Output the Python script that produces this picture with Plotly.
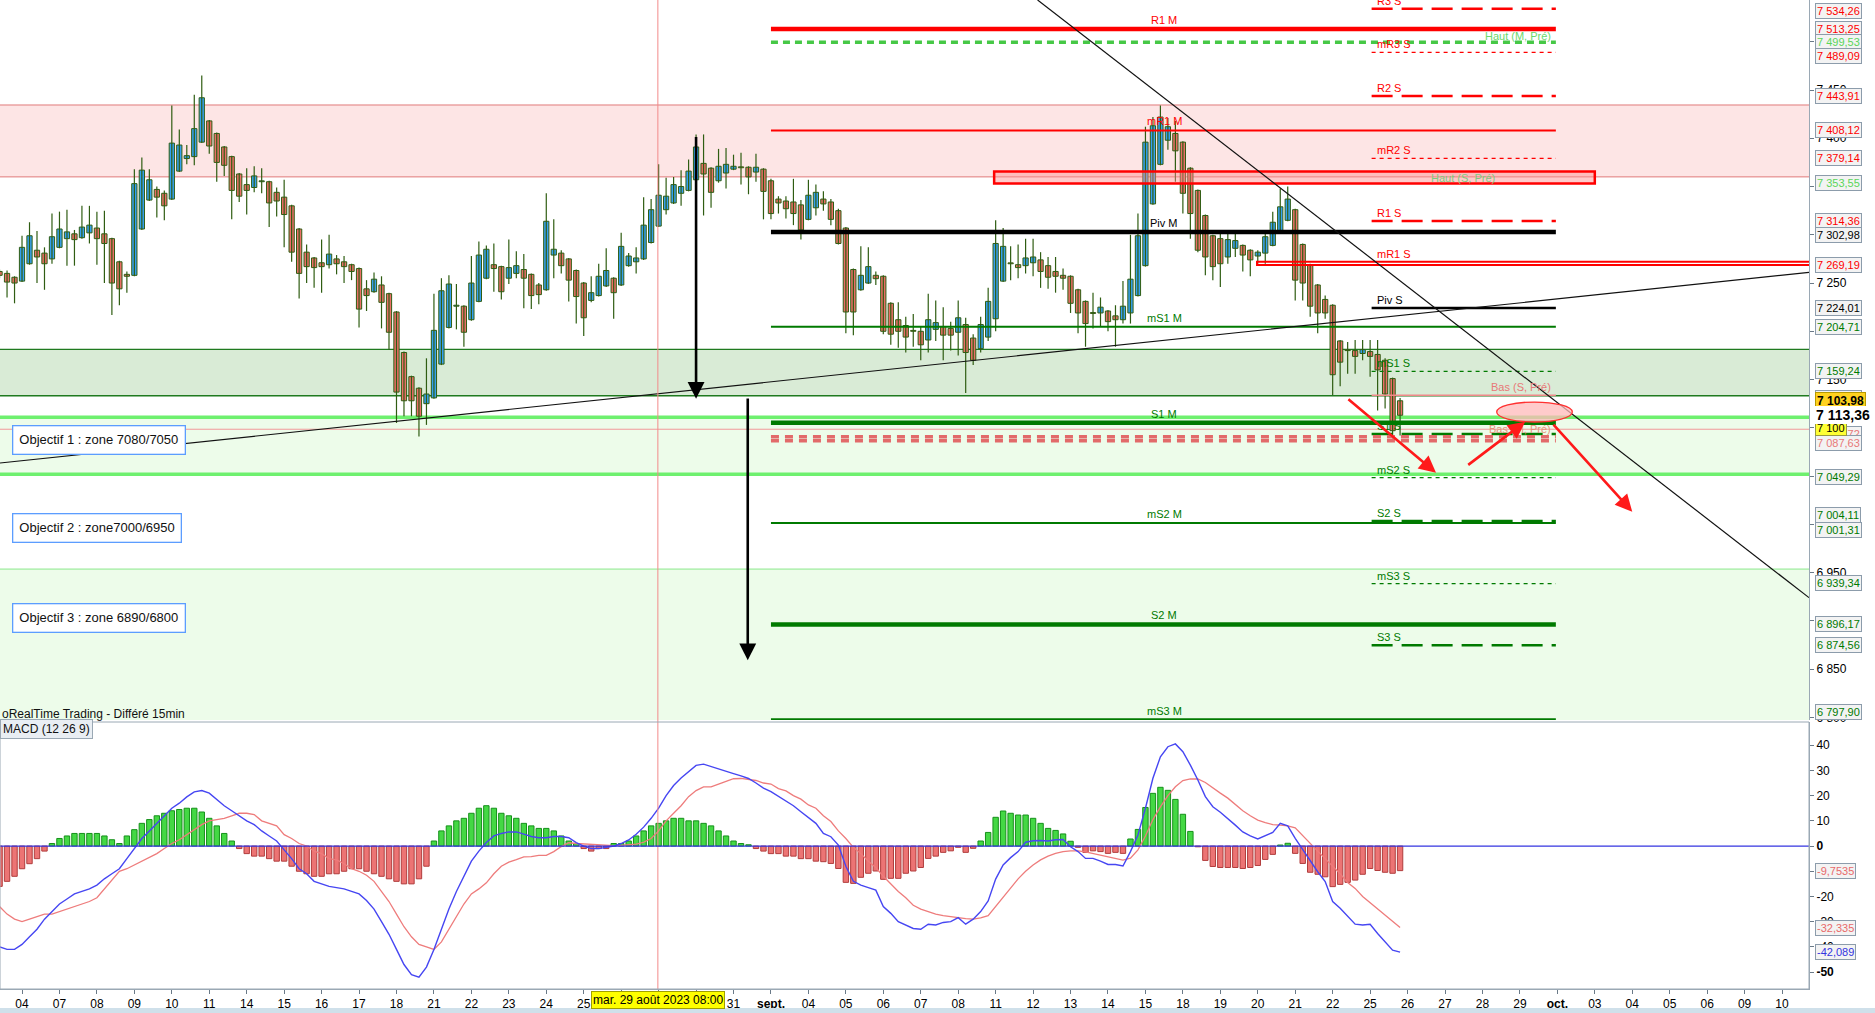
import plotly.graph_objects as go

# Bougies 2h CAC 40, du 3 août au 25 sept. 2023
OPEN = [7262, 7260, 7256, 7252, 7270, 7284, 7281, 7275, 7287, 7296,
        7301, 7297, 7302, 7307, 7301, 7296, 7272, 7259, 7258, 7306,
        7336, 7347, 7343, 7337, 7366, 7379, 7381, 7396, 7418, 7405,
        7391, 7381, 7363, 7352, 7349, 7355, 7355, 7344, 7339, 7330,
        7306, 7282, 7276, 7271, 7269, 7275, 7272, 7269, 7265, 7244,
        7241, 7248, 7239, 7220, 7178, 7153, 7141, 7125, 7131, 7166,
        7204, 7226, 7226, 7212, 7231, 7255, 7269, 7267, 7255, 7260,
        7264, 7259, 7248, 7243, 7279, 7281, 7275, 7263, 7250, 7232,
        7237, 7247, 7255, 7248, 7268, 7272, 7275, 7292, 7309, 7326,
        7333, 7343, 7346, 7357, 7374, 7369, 7356, 7364, 7368, 7369.5,
        7370, 7365, 7368, 7356, 7337, 7335, 7334, 7331, 7316, 7328,
        7337, 7334, 7325, 7307, 7264, 7243, 7250, 7258, 7257, 7229,
        7212, 7206, 7200.5, 7200, 7191, 7202, 7205, 7203, 7199, 7207,
        7193, 7182, 7194, 7213, 7252, 7270.5, 7269, 7268, 7271, 7274,
        7268, 7262, 7258, 7257, 7243, 7231, 7219, 7219, 7221, 7216,
        7212, 7219, 7237, 7268, 7332, 7373, 7398, 7405, 7396, 7369,
        7346, 7320, 7299, 7296, 7277, 7286, 7289, 7284, 7278, 7281,
        7289, 7303, 7315, 7326, 7290, 7269, 7248, 7233, 7227, 7190,
        7180.5, 7180, 7177, 7179, 7176, 7170, 7151, 7128]
HIGH = [7264, 7263, 7257, 7299, 7313, 7304, 7287, 7322, 7324, 7326,
        7305, 7330, 7330, 7324, 7325, 7297, 7273, 7262, 7368, 7380,
        7368, 7350, 7346, 7434, 7409, 7393, 7445, 7465, 7419, 7406,
        7392, 7382, 7364, 7369, 7371, 7369, 7356, 7349, 7357, 7331,
        7307, 7290, 7277, 7295, 7300, 7279, 7278, 7270, 7266, 7253,
        7261, 7257, 7240, 7221, 7179, 7154, 7142, 7172, 7239, 7255,
        7258, 7249, 7227, 7278, 7293, 7289, 7291, 7268, 7295, 7283,
        7280, 7260, 7250, 7343, 7316, 7284, 7276, 7264, 7251, 7257,
        7270, 7286, 7256, 7302, 7281, 7287, 7339, 7337, 7373, 7359,
        7360, 7367, 7378, 7404, 7404, 7370, 7389, 7390, 7383, 7385,
        7371, 7384, 7369, 7358, 7340, 7340, 7358, 7336, 7357, 7352,
        7345, 7337, 7327, 7308, 7265, 7288, 7287, 7262, 7258, 7230,
        7230, 7215, 7218, 7205, 7239, 7232, 7225, 7210, 7232, 7214,
        7197, 7215, 7245, 7315, 7307, 7288, 7290, 7296, 7296, 7282,
        7277, 7277, 7265, 7258, 7244, 7232, 7240, 7235, 7222, 7227,
        7252, 7300, 7322, 7412, 7422, 7434, 7421, 7418, 7397, 7370,
        7347, 7321, 7300, 7305, 7305, 7305, 7290, 7285, 7284, 7305,
        7324, 7348, 7350, 7327, 7291, 7270, 7249, 7237, 7228, 7191,
        7189, 7191, 7191, 7191, 7191, 7172, 7152, 7131]
LOW = [7255, 7235, 7229, 7251, 7269, 7250, 7243, 7270, 7286, 7268,
       7268, 7296, 7291, 7269, 7250, 7217, 7227, 7240, 7257, 7305,
       7335, 7318, 7315, 7336, 7365, 7373, 7372, 7395, 7384, 7355,
       7361, 7316, 7334, 7321, 7344, 7343, 7308, 7319, 7287, 7272,
       7234, 7250, 7245, 7240, 7265, 7259, 7250, 7253, 7204, 7221,
       7240, 7203, 7181, 7105, 7112, 7112, 7091, 7103, 7130, 7165,
       7203, 7202, 7184, 7211, 7230, 7254, 7241, 7233, 7249, 7255,
       7224, 7223, 7228, 7242, 7255, 7260, 7231, 7208, 7195, 7230,
       7236, 7246, 7213, 7247, 7267, 7260, 7274, 7291, 7308, 7321,
       7332, 7330, 7345, 7356, 7320, 7328, 7354, 7348, 7367, 7352,
       7342, 7355, 7316, 7316, 7322, 7317, 7310, 7295, 7315, 7320,
       7325, 7310, 7290, 7198, 7196, 7242, 7249, 7248, 7197, 7186,
       7183, 7178, 7184, 7170, 7178, 7190, 7170, 7180, 7175, 7136,
       7165, 7178, 7190, 7200, 7251, 7253, 7255, 7260, 7257, 7245,
       7244, 7240, 7243, 7219, 7198, 7184, 7203, 7205, 7200, 7184,
       7208, 7208, 7236, 7267, 7331, 7372, 7388, 7355, 7322, 7296,
       7282, 7258, 7253, 7246, 7270, 7277, 7262, 7257, 7270, 7270,
       7288, 7302, 7314, 7232, 7232, 7215, 7198, 7213, 7134, 7143,
       7156, 7156, 7170, 7153, 7118, 7120, 7089, 7092]
CLOSE = [7258, 7251, 7250, 7287, 7299, 7277, 7270, 7298, 7306, 7303,
         7295, 7308, 7310, 7296, 7291, 7250, 7244, 7257, 7353, 7367,
         7357, 7339, 7330, 7395, 7393, 7382, 7410, 7442, 7392, 7375,
         7372, 7346, 7340, 7346, 7361, 7355.5, 7333, 7335, 7321, 7282,
         7260, 7267, 7266, 7267, 7280, 7270, 7267, 7262, 7223, 7237,
         7254, 7230, 7199, 7137, 7128, 7128, 7112, 7135, 7201, 7242,
         7249, 7227, 7199, 7250, 7279, 7285, 7265, 7241, 7266, 7268,
         7255, 7237, 7238, 7314, 7285, 7268, 7253, 7236, 7214, 7240,
         7257, 7263, 7240, 7288, 7278, 7276, 7310, 7326, 7341, 7340,
         7352, 7350, 7366, 7391, 7363, 7344, 7371, 7373, 7371, 7369.5,
         7360, 7370, 7345, 7322, 7333, 7327, 7322, 7305, 7341, 7344,
         7332, 7316, 7291, 7220, 7220, 7258, 7267, 7254.5, 7200, 7197,
         7200, 7194, 7200, 7186, 7212, 7209, 7196, 7196, 7214, 7178,
         7170, 7207, 7231, 7291, 7288, 7270, 7266, 7276, 7277, 7262,
         7256, 7257, 7255, 7229, 7219, 7208, 7218.5, 7225, 7210, 7212,
         7226, 7254, 7299, 7396, 7413, 7422, 7412, 7387, 7343, 7322,
         7284, 7277, 7267, 7270, 7295, 7294, 7279, 7274, 7282, 7298,
         7313, 7329, 7337, 7253, 7250, 7226, 7219, 7219, 7155, 7168,
         7180, 7174, 7181, 7174, 7160, 7135, 7097, 7113]

# MACD (12 26 9)
MACD = [-40, -41, -41, -39, -36, -33, -29, -26, -23, -21,
        -19, -18, -17, -15.5, -13, -11, -9, -5, -1, 3,
        6, 9, 12, 15, 17, 19.5, 21.5, 22, 21, 18.5,
        16, 14, 12, 10, 8.5, 6, 4, 2, -1.5, -5,
        -9, -11, -14, -15, -16, -16.5, -17, -18, -19, -21.6,
        -25, -30, -35, -41, -47, -51, -52, -48, -41, -33,
        -25, -18, -12, -6, -2, 1.4, 4, 5, 5.6, 5.6,
        4.7, 3.8, 3.3, 3.3, 3.8, 3.8, 3.3, 1.4, 0, -1,
        -1, -0.5, 0, 1, 2.4, 4.7, 7.5, 11, 15, 20,
        24, 27, 29.6, 32, 32.5, 31.5, 30.6, 29.6, 28.7, 27.8,
        26.8, 25, 23, 21.6, 19.8, 17.9, 16, 13.6, 11.3, 9,
        5, 3.7, 0.4, -8, -14, -15.5, -16.5, -17.5, -24, -26.7,
        -30, -31.3, -32.7, -33, -31, -31.3, -30.3, -30, -28.4, -31,
        -29, -26, -21.8, -13.1, -7.5, -4.6, -2.2, 1.5, 2.1, 2.2,
        2, 2.5, 2.6, -0.3, -2.2, -4.9, -4.9, -6, -7.3, -7.3,
        -7.9, -2.2, 4.4, 15, 26.9, 35.4, 39.4, 40.5, 37.4, 32.1,
        26.2, 19.6, 15.6, 13.4, 11, 8.3, 5.6, 4, 2.8, 4,
        5.4, 9, 8, 3, -1.5, -5.6, -10.2, -14.1, -22, -24.7,
        -28, -31, -31.3, -31, -34.7, -38, -41.3, -42.089]
SIGNAL = [-24, -27, -29, -30, -29, -28, -27, -27, -26, -25,
          -24, -23, -22, -20.5, -17, -13.5, -10, -9, -7.5, -6,
          -4.5, -3, -1, 1, 2.5, 4.5, 6.5, 8.5, 10, 10.5,
          11, 12, 13, 13, 12.5, 10, 9, 8, 4.5, 3,
          1, 0, -2, -3, -5, -5.5, -7, -9, -10, -11.6,
          -14, -18, -22, -27, -32, -36, -39, -40, -41, -38,
          -33, -28, -23, -19, -17, -14.6, -11, -8, -6.4, -5.4,
          -4.3, -4.2, -3.7, -3.7, -2.2, -0.2, 1.3, 1, 0.8, 0.6,
          0.4, 0.3, 0.2, 0.3, 0.5, 0.8, 1.5, 3, 6, 10,
          13, 16, 19.6, 22, 23.5, 23.5, 24.6, 25.6, 26.7, 26.8,
          26.3, 26, 25, 24.6, 22.8, 21.9, 20, 18.6, 16.3, 15,
          12, 9.7, 6, 3, -0.5, -3, -6, -8.5, -12, -15,
          -18, -20.5, -23.5, -25, -26, -27, -27.6, -28.1, -28.5, -28.8,
          -29, -28.5, -27.6, -24, -20, -16.8, -13, -10, -7.5, -5.5,
          -4, -2.9, -2.2, -1.9, -1.9, -2.3, -3, -3.7, -4.4, -5,
          -5.6, -4.8, -1.5, 4, 10.5, 15.5, 20, 23.5, 26, 26.6,
          26.6, 25.2, 23, 21, 19, 16.5, 14, 12, 10.3, 9.3,
          8.5, 8.3, 8, 7.2, 4, 1, -2, -5, -8, -11,
          -14.5, -16.8, -20, -22.5, -25, -27.5, -30, -32.335]
HIST = [-16, -14, -12, -9, -7, -5, -2, 1, 3, 4,
        5, 5, 5, 5, 4, 2.5, 1, 4, 6.5, 9,
        10.5, 12, 13, 14, 14.5, 15, 15, 13.5, 11, 8,
        5, 2, -1, -3, -4, -4, -5, -6, -6, -8,
        -10, -11, -12, -12, -11, -11, -10, -9, -9, -10,
        -11, -12, -13, -14, -15, -15, -13, -8, 2, 6,
        8, 10, 11, 13, 15, 16, 15, 13, 12, 11,
        9, 8, 7, 7, 6, 4, 2, 1, -1, -2,
        -1, -1, 1, 1, 2, 4, 6, 8, 9, 10,
        11, 11, 10, 10, 9, 8, 6, 4, 2, 1,
        0.5, -1, -2, -3, -3, -4, -4, -5, -5, -6,
        -6.2, -6.9, -8.9, -14.4, -14.8, -12.4, -10.8, -9.9, -13.2, -12.8,
        -12.8, -10.8, -9.9, -8.5, -4.9, -4, -2.5, -1.9, -0.5, -2.5,
        -0.9, 2, 5.4, 11.4, 13.9, 13, 12.3, 12.3, 11, 9,
        7, 6.2, 4.8, 1.9, -0.5, -2.5, -1.9, -2.2, -2.9, -2.5,
        -2.9, 2.8, 6.6, 15.3, 20.9, 23.3, 22.1, 18.5, 12.6, 5.8,
        -0.3, -5.7, -8.1, -8.5, -8.5, -8.5, -8.9, -8.5, -7.7, -5.3,
        -3.3, 0.4, 1.1, -2.9, -6.9, -10.4, -11.2, -12.2, -16.1, -15.2,
        -14.4, -13.5, -11.2, -8.9, -9.7, -10.4, -10.8, -9.7535]

DAY_LABELS = ["04", "07", "08", "09", "10", "11", "14", "15", "16", "17",
              "18", "21", "22", "23", "24", "25", "28", "29", "30", "31",
              "sept.", "04", "05", "06", "07", "08", "11", "12", "13", "14",
              "15", "18", "19", "20", "21", "22", "25", "26", "27", "28",
              "29", "oct.", "03", "04", "05", "06", "09", "10"]
PRICE_TICKS = [6800, 6850, 6900, 6950, 7000, 7050, 7100, 7150, 7200, 7250,
               7300, 7350, 7400, 7450, 7500]
MACD_TICKS = [-50, -40, -30, -20, -10, 0, 10, 20, 30, 40]

# pivots mensuels / hebdomadaires
PIVOT_M_NAMES = ["R1 M", "mR1 M", "Piv M", "mS1 M", "S1 M", "mS2 M", "S2 M", "mS3 M"]
PIVOT_M_VALUES = [7513.25, 7408.12, 7302.98, 7204.71, 7105.2, 7001.31, 6896.17, 6797.90]
PIVOT_S_NAMES = ["R3 S", "mR3 S", "R2 S", "mR2 S", "R1 S", "mR1 S", "Piv S",
                 "mS1 S", "S1 S", "mS2 S", "S2 S", "mS3 S", "S3 S"]
PIVOT_S_VALUES = [7534.26, 7489.09, 7443.91, 7379.14, 7314.36, 7269.19, 7224.01,
                  7158.5, 7093.5, 7048.3, 7003.5, 6938.5, 6874.56]
PREV_NAMES = ["Haut (M, Pré)", "Haut (S, Pré)", "Bas (S, Pré)", "Bas (M, Pré)"]
PREV_VALUES = [7499.53, 7353.55, 7133.65, 7087.63]

ZONES = {"resist": (7360, 7434.5), "support": (7133.2, 7181.3),
         "obj1": (7051.8, 7110.8), "obj3": (6797.2, 6953.6)}
ROUND_LEVEL = 7100
OBJECTIVES = [("Objectif 1 : zone 7080/7050", 7087),
              ("Objectif 2 : zone7000/6950", 6996),
              ("Objectif 3 : zone 6890/6800", 6903)]

TREND_DOWN = [(138.6, 7543.3), (241.6, 6924.0)]
TREND_UP = [(0.06, 7063.5), (241.6, 7261.0)]
BLACK_ARROWS = [((93.0, 7403), (93.0, 7130)), ((99.9, 7132), (99.9, 6859))]
RED_ARROWS = [((179.9, 7130.8), (191.8, 7053.4)),
              ((195.9, 7060.4), (203.7, 7106.3)),
              ((207.3, 7104.9), (218.0, 7013.0))]
TARGET_ELLIPSE = (199.9, 210.0, 7106.0, 7126.7)
CROSSHAIR_BAR = 87.9
CROSSHAIR_TEXT = "mar. 29 août 2023 08:00"

AXIS_TAGS = [("7 534,26", 7534.26), ("7 513,25", 7513.25), ("7 499,53", 7499.53),
             ("7 489,09", 7489.09), ("7 443,91", 7443.91), ("7 408,12", 7408.12),
             ("7 379,14", 7379.14), ("7 353,55", 7353.55), ("7 314,36", 7314.36),
             ("7 302,98", 7302.98), ("7 269,19", 7269.19), ("7 224,01", 7224.01),
             ("7 204,71", 7204.71), ("7 159,24", 7159.24), ("7 133,65", 7133.65),
             ("7 090,72", 7090.72), ("7 087,63", 7087.63), ("7 049,29", 7049.29),
             ("7 004,11", 7004.11), ("7 001,31", 7001.31), ("6 939,34", 6939.34),
             ("6 896,17", 6896.17), ("6 874,56", 6874.56), ("6 797,90", 6797.90)]
MACD_TAGS = [("-9,7535", -9.7535), ("-32,335", -32.335), ("-42,089", -42.089)]
LAST_PRICE = 7113.36
LAST_BOX = ("7 103,98", 7127.7)

# ---------------- mise en page ----------------
RED, GREEN, BLACK = "#ff0000", "#007a00", "#000000"
SALMON = "#e87878"
LIME = "#6ef06e"
WICK = "#2f5d12"
FONT = "Liberation Sans, Arial, sans-serif"
NARROW = "Liberation Sans Narrow, Arial Narrow, Liberation Sans, sans-serif"
LONG_DASH, SHORT_DASH = "21px,9px", "4px,4px"

W, H = 1875, 1013
PLOT_W, PLOT_H = 1809, 989
X_RANGE = [0.06, 241.6]
PRICE_RANGE = [6797.2, 7543.3]
MACD_RANGE = [-56.7, 49.2]
PRICE_DOMAIN = [1 - 720 / PLOT_H, 1]
MACD_DOMAIN = [0, 1 - 722 / PLOT_H]
M_SPAN = (103.0, 207.8)
S_SPAN = (183.2, 207.8)
TAG_X = 1815 / PLOT_W

bars = list(range(len(CLOSE)))


def fmt_price(v):
    return f"{v:,.0f}".replace(",", " ")


def level_color(name):
    if "Piv" in name:
        return BLACK
    return RED if "R" in name else GREEN


def hline(y, x0, x1, color, width, dash="solid", yref="y", xref="x", layer="above"):
    return dict(type="line", xref=xref, yref=yref, x0=x0, x1=x1, y0=y, y1=y,
                line=dict(color=color, width=width, dash=dash), layer=layer)


def label(text, x, y, color, anchor="center", yanchor="bottom", size=11, **kw):
    return dict(x=x, y=y, xref="x", yref="y", text=text, showarrow=False,
                xanchor=anchor, yanchor=yanchor,
                font=dict(family=FONT, size=size, color=color), **kw)


fig = go.Figure()

# bougies : mèches puis corps
wick_x, wick_y = [], []
for i, (lo, hi) in enumerate(zip(LOW, HIGH)):
    wick_x += [i, i, None]
    wick_y += [lo, hi, None]
fig.add_trace(go.Scatter(x=wick_x, y=wick_y, xaxis="x", yaxis="y", mode="lines",
                         line=dict(color=WICK, width=1.2), showlegend=False,
                         hoverinfo="skip"))
body_base = [min(o, c) for o, c in zip(OPEN, CLOSE)]
body_size = [max(abs(c - o), 0.9) for o, c in zip(OPEN, CLOSE)]
body_fill = ["#36a0f0" if c > o else "#ea6f68" for o, c in zip(OPEN, CLOSE)]
fig.add_trace(go.Bar(x=bars, y=body_size, base=body_base, xaxis="x", yaxis="y",
                     width=0.7, marker=dict(color=body_fill, line=dict(color=WICK, width=1)),
                     showlegend=False, hoverinfo="skip"))

hist_fill = ["#44d844" if v >= 0 else "#ec7474" for v in HIST]
hist_edge = ["#15901a" if v >= 0 else "#b03c3c" for v in HIST]
fig.add_trace(go.Bar(x=bars, y=HIST, xaxis="x2", yaxis="y2", width=0.72,
                     marker=dict(color=hist_fill, line=dict(color=hist_edge, width=1)),
                     showlegend=False, hoverinfo="skip"))
fig.add_trace(go.Scatter(x=bars, y=SIGNAL, xaxis="x2", yaxis="y2", mode="lines",
                         line=dict(color="#ee7c7c", width=1.3), showlegend=False))
fig.add_trace(go.Scatter(x=bars, y=MACD, xaxis="x2", yaxis="y2", mode="lines",
                         line=dict(color="#4646f2", width=1.4), showlegend=False))

shapes = []
annotations = []

# zones de fond
zone_style = {"resist": ("#fde5e5", "#e07a7a", 1),
              "support": ("#d9ebd6", "#1f7a1f", 1.3),
              "obj1": ("#edfcea", LIME, 3.5),
              "obj3": ("#edfcea", "#8be88b", 1)}
for key, (lo, hi) in ZONES.items():
    fill, edge, lw = zone_style[key]
    shapes.append(dict(type="rect", xref="paper", yref="y", x0=0, x1=1, y0=lo, y1=hi,
                       fillcolor=fill, line=dict(width=0), layer="below"))
    shapes.append(hline(hi, 0, 1, edge, lw, xref="paper", layer="below"))
    if key != "obj3":
        shapes.append(hline(lo, 0, 1, edge, lw, xref="paper", layer="below"))
shapes.append(hline(ROUND_LEVEL - 1.5, 0, 1, "#f29a9a", 1, xref="paper", layer="below"))

# pivots mensuels
for name, val in zip(PIVOT_M_NAMES, PIVOT_M_VALUES):
    col = level_color(name)
    width = 2 if name.startswith("m") else 4.5
    shapes.append(hline(val, M_SPAN[0], M_SPAN[1], col, width))
    annotations.append(label(name, 155.5, val, col, yshift=1 if name != "mS3 M" else 0))

# pivots hebdomadaires
for name, val in zip(PIVOT_S_NAMES, PIVOT_S_VALUES):
    col = level_color(name)
    if name == "mR1 S":
        shapes.append(dict(type="rect", xref="x", yref="y", x0=167.9, x1=250,
                           y0=val - 0.6, y1=val + 2.9, line=dict(color=RED, width=2),
                           fillcolor="rgba(0,0,0,0)", layer="above"))
        annotations.append(label(name, 183.6, val + 2.9, col, anchor="left"))
        continue
    if name == "Piv S":
        shapes.append(hline(val, S_SPAN[0], S_SPAN[1], BLACK, 2.5))
    elif name.startswith("m"):
        shapes.append(hline(val, S_SPAN[0], S_SPAN[1], col, 1.2, SHORT_DASH))
    else:
        shapes.append(hline(val, S_SPAN[0], S_SPAN[1], col, 2.5, LONG_DASH))
    annotations.append(label(name, 183.6, val, col, anchor="left"))

# plus hauts / plus bas précédents
haut_m, haut_s, bas_s, bas_m = PREV_VALUES
shapes.append(hline(haut_m, M_SPAN[0], M_SPAN[1], "#46c846", 3.5, "7px,5px"))
annotations.append(label(PREV_NAMES[0], 207.4, haut_m, "#6bd86b", anchor="right", yshift=-2))
shapes.append(dict(type="rect", xref="x", yref="y", x0=132.8, x1=213.0,
                   y0=haut_s - 0.5, y1=haut_s + 12, line=dict(color=RED, width=2.5),
                   fillcolor="rgba(255,140,140,0.45)", layer="above"))
annotations.append(label(PREV_NAMES[1], 195.4, haut_s + 5.7, "#7fcc7f", yanchor="middle"))
shapes.append(hline(bas_s, S_SPAN[0], S_SPAN[1], "#ef8a8a", 1.6))
annotations.append(label(PREV_NAMES[2], 207.4, bas_s, SALMON, anchor="right"))
for off in (3.1, -1.0):
    shapes.append(hline(bas_m + off, M_SPAN[0], M_SPAN[1], "#e26a6a", 3.5, "8px,6px"))
annotations.append(label(PREV_NAMES[3], 207.4, bas_m + 11.5, "#e8927a",
                         anchor="right", yanchor="middle"))

# lignes de tendance
for (xa, ya), (xb, yb) in (TREND_DOWN, TREND_UP):
    shapes.append(dict(type="line", xref="x", yref="y", x0=xa, y0=ya, x1=xb, y1=yb,
                       line=dict(color="#111111", width=1.2), layer="above"))

# curseur vertical
shapes.append(dict(type="line", xref="x", yref="paper", x0=CROSSHAIR_BAR, x1=CROSSHAIR_BAR,
                   y0=0, y1=1, line=dict(color="#f28a8a", width=1), layer="above"))

# ellipse cible
ex0, ex1, ey0, ey1 = TARGET_ELLIPSE
shapes.append(dict(type="circle", xref="x", yref="y", x0=ex0, x1=ex1, y0=ey0, y1=ey1,
                   fillcolor="rgba(255,185,185,0.75)", line=dict(color="#ff3030", width=1.3),
                   layer="above"))

# flèches
for (tx, ty), (hx, hy) in BLACK_ARROWS:
    annotations.append(dict(x=hx, y=hy, ax=tx, ay=ty, xref="x", yref="y", axref="x",
                            ayref="y", text="", showarrow=True, arrowhead=2, arrowsize=1.3,
                            arrowwidth=2.6, arrowcolor="#000000", standoff=0))
for (tx, ty), (hx, hy) in RED_ARROWS:
    annotations.append(dict(x=hx, y=hy, ax=tx, ay=ty, xref="x", yref="y", axref="x",
                            ayref="y", text="", showarrow=True, arrowhead=2, arrowsize=1.3,
                            arrowwidth=2.6, arrowcolor="#ff1a1a", standoff=0))

# objectifs
for text, val in OBJECTIVES:
    annotations.append(dict(x=12 / PLOT_W, y=val, xref="paper", yref="y", text=text,
                            showarrow=False, xanchor="left", yanchor="middle",
                            font=dict(family=FONT, size=13, color="#111111"),
                            bgcolor="#ffffff", bordercolor="#5c9dff", borderwidth=1.3,
                            borderpad=6))

# zéro du MACD et cadre
shapes.append(hline(0, 0, 1, "#3434e0", 1.2, yref="y2", xref="paper"))
shapes.append(dict(type="rect", xref="paper", yref="paper", x0=0, x1=1, y0=0,
                   y1=MACD_DOMAIN[1], line=dict(color="#9aa8b4", width=1),
                   fillcolor="rgba(0,0,0,0)", layer="above"))
shapes.append(dict(type="rect", xref="paper", yref="paper", x0=0, x1=W / PLOT_W,
                   y0=-24 / PLOT_H, y1=-19 / PLOT_H, fillcolor="#cfe0ea",
                   line=dict(width=0)))

# étiquettes de l'axe des prix
tag_colors = {"7 499,53": "#5ad65a", "7 353,55": "#5ad65a", "7 302,98": BLACK,
              "7 224,01": BLACK, "7 133,65": SALMON, "7 090,72": SALMON,
              "7 087,63": SALMON}
tag_shift = {"7 534,26": -2, "7 489,09": -4, "7 302,98": -3, "7 133,65": -3,
             "7 087,63": -3, "7 090,72": 3, "7 004,11": 5, "7 001,31": -7, "6 797,90": 7}
green_tags = {"7 204,71", "7 159,24", "7 049,29", "7 004,11", "7 001,31", "6 939,34",
              "6 896,17", "6 874,56", "6 797,90"}


def tag(text, y, color, yref="y", shift=0, bg="#f3f3f3", border="#8c9cab", size=11,
        bold=False):
    return dict(x=TAG_X, y=y, xref="paper", yref=yref, text=f"<b>{text}</b>" if bold else text,
                showarrow=False, xanchor="left", yanchor="middle", yshift=shift,
                font=dict(family=FONT, size=size, color=color), bgcolor=bg,
                bordercolor=border, borderwidth=1 if border else 0, borderpad=1)


for text, val in AXIS_TAGS:
    col = tag_colors.get(text, GREEN if text in green_tags else RED)
    annotations.append(tag(text, val, col, shift=tag_shift.get(text, 0)))
annotations.append(tag(LAST_BOX[0], LAST_BOX[1], BLACK, bg="#ffd21f", border="#b89a00",
                       size=12, bold=True))
annotations.append(tag(fmt_price(ROUND_LEVEL), ROUND_LEVEL, BLACK, bg="#ffff33",
                       border="#9a9a40"))
annotations.append(tag("7 113,36", LAST_PRICE, BLACK, bg="#ffffff", border=None, size=14,
                       bold=True))
macd_colors = ["#e86a6a", "#e86a6a", "#3434e0"]
for (text, val), col in zip(MACD_TAGS, macd_colors):
    annotations.append(tag(text, val, col, yref="y2"))

# textes divers
annotations.append(dict(x=0, y=1 - 714 / PLOT_H, xref="paper", yref="paper",
                        text="oRealTime Trading - Différé 15min", showarrow=False,
                        xanchor="left", yanchor="middle",
                        font=dict(family=FONT, size=12, color="#111111")))
annotations.append(dict(x=0, y=1 - 729 / PLOT_H, xref="paper", yref="paper",
                        text="MACD (12 26 9)", showarrow=False, xanchor="left",
                        yanchor="middle", font=dict(family=FONT, size=12, color="#111111"),
                        bgcolor="#e9eef3", bordercolor="#9aa8b4", borderwidth=1,
                        borderpad=2))
annotations.append(dict(x=CROSSHAIR_BAR, y=-11 / PLOT_H, xref="x", yref="paper",
                        text=CROSSHAIR_TEXT, showarrow=False, xanchor="center",
                        yanchor="middle", font=dict(family=NARROW, size=12, color="#000000"),
                        bgcolor="#ffff00", bordercolor="#a0a000", borderwidth=1,
                        borderpad=1))

day_ticks = [3 + 5 * d for d in range(len(DAY_LABELS))]
day_text = [f"<b>{t}</b>" if t.endswith(".") else t for t in DAY_LABELS]
macd_text = [f"<b>{v}</b>" if v in (0, -50) else str(v) for v in MACD_TICKS]

axis_common = dict(showgrid=False, zeroline=False, showline=True, linecolor="#9aa8b4",
                   ticks="outside", ticklen=4, tickcolor="#6a7a88",
                   tickfont=dict(family=FONT, size=12, color="#000000"))
fig.update_layout(
    width=W, height=H, margin=dict(l=0, r=W - PLOT_W, t=0, b=H - PLOT_H),
    paper_bgcolor="#ffffff", plot_bgcolor="#ffffff", showlegend=False,
    barmode="overlay",
    xaxis=dict(domain=[0, 1], range=X_RANGE, anchor="y", showticklabels=False,
               showgrid=False, zeroline=False, showline=False, ticks=""),
    xaxis2=dict(domain=[0, 1], range=X_RANGE, anchor="y2", matches="x",
                tickmode="array", tickvals=day_ticks, ticktext=day_text,
                **{**axis_common, "tickfont": dict(family=NARROW, size=12, color="#000")}),
    yaxis=dict(domain=PRICE_DOMAIN, range=PRICE_RANGE, side="right", anchor="x",
               tickmode="array", tickvals=PRICE_TICKS,
               ticktext=[fmt_price(v) for v in PRICE_TICKS], **axis_common),
    yaxis2=dict(domain=MACD_DOMAIN, range=MACD_RANGE, side="right", anchor="x2",
                tickmode="array", tickvals=MACD_TICKS, ticktext=macd_text, **axis_common),
    shapes=shapes, annotations=annotations,
)

# page sans marge : la figure occupe exactement la fenêtre
fig.write_html("out.html", config={"displayModeBar": False}, post_script=(
    "document.body.style.margin='0';document.body.style.overflow='hidden';"))
